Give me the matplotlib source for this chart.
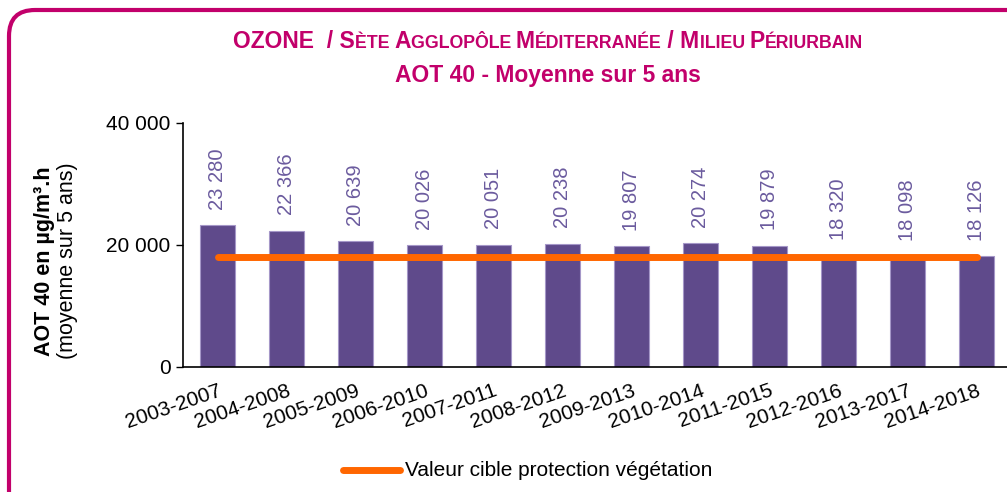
import matplotlib
matplotlib.use("Agg")
import matplotlib.pyplot as plt
from matplotlib.patches import FancyBboxPatch
from matplotlib.lines import Line2D
import matplotlib.transforms as mtransforms

periods = ['2003-2007', '2004-2008', '2005-2009', '2006-2010', '2007-2011', '2008-2012',
           '2009-2013', '2010-2014', '2011-2015', '2012-2016', '2013-2017', '2014-2018']
aot40 = [23280, 22366, 20639, 20026, 20051, 20238, 19807, 20274, 19879, 18320, 18098, 18126]
target = [18000] * len(periods)
yticks = [0, 20000, 40000]

MAGENTA = '#C2006B'
BAR = '#5F4A8B'
LABEL = '#6B5B9E'
ORANGE = '#FF6600'
FONT = ['Liberation Sans', 'DejaVu Sans']

plt.rcParams['font.family'] = FONT

W, H = 1007, 492
fig = plt.figure(figsize=(W / 100, H / 100), dpi=100)

# axes placed in pixels, right edge runs past the crop like the original
ax = fig.add_axes([183 / W, 125 / H, 828 / W, 244 / H])
x = list(range(len(periods)))
ax.bar(x, aot40, width=0.52, color=BAR, edgecolor='#A597C8', linewidth=0.8, zorder=2)
ax.plot(x, target, color=ORANGE, linewidth=5, solid_capstyle='round', zorder=3)

for xi, v in zip(x, aot40):
    ax.annotate(f"{v:,}".replace(',', ' '), (xi, v), xytext=(0, 11), textcoords='offset points',
                rotation=90, ha='center', va='bottom', fontsize=14.5, color=LABEL)

ax.set_xlim(-0.5, len(periods) - 0.5)
ax.set_ylim(0, 40000)
ax.set_yticks(yticks)
ax.set_yticklabels([f"{t:,}".replace(',', ' ') for t in yticks], fontsize=15)
ax.set_xticks(x)
ax.set_xticklabels(periods, rotation=19, ha='right', rotation_mode='anchor', fontsize=15)
ax.tick_params(axis='x', length=0, pad=10)
ax.tick_params(axis='y', length=5, width=1, direction='out', pad=4)
for s in ['top', 'right']:
    ax.spines[s].set_visible(False)
ax.spines['left'].set_linewidth(1.2)
ax.spines['bottom'].set_linewidth(1.2)

# y label, two lines
fig.text(45 / W, 0.47, 'AOT 40 en µg/m³.h', rotation=90, ha='center', va='center',
         fontsize=15.5, fontweight='bold')
fig.text(68 / W, 0.47, '(moyenne sur 5 ans)', rotation=90, ha='center', va='center',
         fontsize=15.5)

# title line 1 in small caps: pieces of (text, size)
pieces = [('OZONE  / S', 16.5), ('ÈTE ', 12.8), ('A', 16.5), ('GGLOPÔLE ', 12.8), ('M', 16.5),
          ('ÉDITERRANÉE', 12.8), (' / M', 16.5), ('ILIEU ', 12.8), ('P', 16.5), ('ÉRIURBAIN', 12.8)]
renderer = fig.canvas.get_renderer()
texts = []
widths = []
for s, size in pieces:
    t = fig.text(0, (492 - 48) / H, s, fontsize=size, fontweight='bold', color=MAGENTA,
                 ha='left', va='baseline')
    bb = t.get_window_extent(renderer)
    texts.append(t)
    widths.append(bb.width)
xpos = 548 - sum(widths) / 2
for t, w in zip(texts, widths):
    t.set_x(xpos / W)
    xpos += w

fig.text(548 / W, (492 - 82) / H, 'AOT 40 - Moyenne sur 5 ans', fontsize=16.5, fontweight='bold',
         color=MAGENTA, ha='center', va='baseline')

# legend
fig.add_artist(Line2D([343 / W, 400 / W], [22 / H, 22 / H], color=ORANGE, linewidth=5,
                      solid_capstyle='round'))
fig.text(405 / W, 21 / H, 'Valeur cible protection végétation', fontsize=15,
         ha='left', va='center')

# rounded frame, in pixels
frame = FancyBboxPatch((9, -60), 1100, 542, boxstyle='round,pad=0,rounding_size=26',
                       fill=False, edgecolor=MAGENTA, linewidth=3,
                       transform=mtransforms.IdentityTransform())
fig.add_artist(frame)

fig.savefig('out.png', dpi=100)
